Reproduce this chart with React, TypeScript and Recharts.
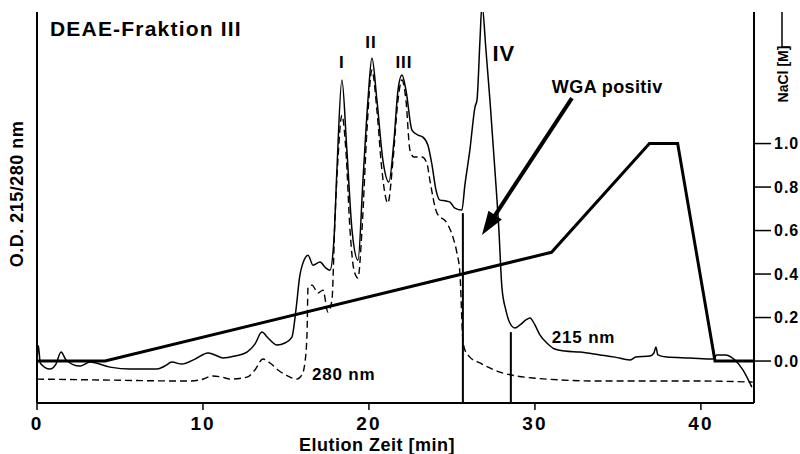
import { LineChart, Line, XAxis, YAxis, ReferenceLine, ReferenceDot } from "recharts"

// 215 nm trace (solid)
const time215 = [0, 0.08, 0.2, 0.78, 1.14, 1.45, 1.75, 2.59, 3.19, 4.4, 5.6, 7.23, 7.7, 8.13, 8.73, 9.52, 10.3, 10.72, 11.2, 11.93, 12.65, 13.13, 13.55, 13.92, 14.46, 14.94, 15.36, 15.6, 15.84, 16.02, 16.33, 16.63, 17.05, 17.4, 17.65, 17.89, 18.07, 18.37, 18.67, 18.98, 19.34, 19.64, 19.94, 20.18, 20.48, 20.84, 21.2, 21.51, 21.75, 21.99, 22.23, 22.59, 22.95, 23.25, 23.55, 23.8, 24.04, 24.28, 24.64, 24.88, 25.18, 25.6, 25.78, 26.08, 26.39, 26.51, 26.69, 26.81, 27.05, 27.29, 27.59, 27.83, 28.01, 28.25, 28.49, 28.8, 29.1, 29.46, 29.7, 30.0, 30.3, 30.72, 31.2, 31.8, 32.7, 33.92, 34.82, 35.72, 36.08, 36.93, 37.17, 37.29, 37.41, 37.95, 39.34, 40.72, 40.96, 41.45, 42.05, 42.53, 43.07]
const od215 = [0.0, 0.07, -0.01, -0.037, -0.014, 0.041, 0.005, -0.023, -0.005, -0.028, -0.037, -0.037, -0.023, -0.005, -0.014, 0.009, 0.037, 0.028, 0.014, 0.023, 0.041, 0.078, 0.133, 0.106, 0.074, 0.083, 0.11, 0.234, 0.395, 0.45, 0.487, 0.441, 0.455, 0.428, 0.418, 0.556, 0.878, 1.292, 0.97, 0.602, 0.464, 0.832, 1.2, 1.393, 1.2, 0.924, 0.823, 1.016, 1.246, 1.315, 1.246, 1.062, 1.039, 1.03, 0.993, 0.901, 0.786, 0.74, 0.736, 0.731, 0.703, 0.694, 0.809, 0.97, 1.168, 1.2, 1.476, 1.64, 1.43, 1.2, 0.878, 0.602, 0.34, 0.234, 0.175, 0.152, 0.166, 0.189, 0.198, 0.166, 0.12, 0.083, 0.055, 0.046, 0.041, 0.028, 0.018, 0.005, 0.018, 0.023, 0.037, 0.064, 0.028, 0.018, 0.014, 0.009, 0.028, 0.028, 0.005, -0.041, -0.12]

// 280 nm trace (dashed)
const time280 = [0, 3.8, 9.04, 9.82, 10.6, 11.14, 11.63, 12.65, 13.13, 13.61, 14.04, 14.52, 15.12, 15.66, 15.96, 16.14, 16.27, 16.33, 16.57, 16.93, 17.23, 17.53, 17.77, 17.95, 18.13, 18.37, 18.61, 18.86, 19.1, 19.34, 19.58, 19.88, 20.18, 20.48, 20.78, 21.14, 21.45, 21.75, 21.99, 22.23, 22.47, 22.71, 23.19, 23.49, 23.67, 24.1, 24.7, 25.06, 25.3, 25.48, 25.66, 25.78, 26.08, 26.69, 27.89, 28.55, 29.88, 33.92, 39.94, 43.13]
const od280 = [-0.083, -0.087, -0.092, -0.087, -0.069, -0.074, -0.083, -0.074, -0.041, 0.009, -0.009, -0.041, -0.069, -0.083, -0.064, -0.009, 0.129, 0.34, 0.349, 0.313, 0.326, 0.225, 0.28, 0.648, 0.924, 1.131, 0.97, 0.602, 0.418, 0.382, 0.602, 1.062, 1.338, 1.154, 0.878, 0.726, 0.924, 1.2, 1.292, 1.2, 0.97, 0.938, 0.938, 0.91, 0.832, 0.68, 0.634, 0.57, 0.497, 0.405, 0.097, 0.051, 0.018, -0.009, -0.051, -0.064, -0.078, -0.092, -0.092, -0.097]

// NaCl gradient
const gradientTime = [0, 4.1, 31.0, 36.9, 38.6, 40.85, 43.2]
const gradientNaCl = [0, 0, 0.5, 1.0, 1.0, 0, 0]

const xTicks = [0, 10, 20, 30, 40]
const naclTicks = [0, 0.2, 0.4, 0.6, 0.8, 1.0]

const peakNames = ["I", "II", "III", "IV"]
const peakTime = [18.37, 20.12, 22.11, 28.13]
const peakLevel = [1.347, 1.439, 1.347, 1.379]
const peakSize = [17, 17, 17, 22]

// fraction collection marks
const fractionTime = [25.66, 28.55]
const fractionTop = [0.68, 0.133]

const X_DOMAIN: [number, number] = [0, 43.2]
const Y_DOMAIN: [number, number] = [-0.193, 1.605]

const font = "'Liberation Sans', Arial, Helvetica, sans-serif"

const s215 = time215.map((t, i) => ({ t, v: od215[i] }))
const s280 = time280.map((t, i) => ({ t, v: od280[i] }))
const sNaCl = gradientTime.map((t, i) => ({ t, v: gradientNaCl[i] }))

function textShape(value: string, size: number, anchor: string, spacing = 0) {
    return (p: any) => (
        <text x={p.cx} y={p.cy} textAnchor={anchor} fontFamily={font} fontWeight="bold"
            fontSize={size} fill="#000" style={{ letterSpacing: spacing }}>{value}</text>
    )
}

function Arrow(p: any) {
    const { x1, y1, x2, y2 } = p
    const dx = x2 - x1, dy = y2 - y1
    const len = Math.hypot(dx, dy)
    const ux = dx / len, uy = dy / len
    const head = 24, half = 8
    const bx = x2 - ux * head, by = y2 - uy * head
    return (
        <g>
            <line x1={x1} y1={y1} x2={bx + ux * 3} y2={by + uy * 3} stroke="#000" strokeWidth={4} />
            <polygon points={`${x2},${y2} ${bx - uy * half},${by + ux * half} ${bx + uy * half},${by - ux * half}`} fill="#000" />
        </g>
    )
}

export default function App() {
    return (
        <div style={{ position: "absolute", left: 0, top: 0, background: "#fff" }}>
            <LineChart width={800} height={454} margin={{ top: 12, right: 0, bottom: 0, left: 0 }}>
                <XAxis xAxisId="top" orientation="top" type="number" domain={X_DOMAIN} allowDataOverflow
                    height={0} tick={false} tickLine={false} axisLine={{ stroke: "#000", strokeWidth: 1.5 }} />
                <XAxis dataKey="t" type="number" domain={X_DOMAIN} allowDataOverflow ticks={xTicks}
                    height={51} tickSize={7} tickMargin={7} interval={0}
                    axisLine={{ stroke: "#000", strokeWidth: 2 }} tickLine={{ stroke: "#000", strokeWidth: 1.5 }}
                    tick={{ fill: "#000", fontSize: 19, fontWeight: "bold", fontFamily: font, style: { letterSpacing: 2 } }}
                    label={{
                        content: (lp: any) => (
                            <text x={lp.viewBox.x + 340} y={lp.viewBox.y + 48} textAnchor="middle" fontFamily={font}
                                fontWeight="bold" fontSize={18} fill="#000" style={{ letterSpacing: 0.5 }}>Elution Zeit [min]</text>
                        )
                    }} />
                <YAxis yAxisId="od" orientation="left" type="number" domain={Y_DOMAIN} allowDataOverflow width={37}
                    tick={false} tickLine={false} axisLine={{ stroke: "#000", strokeWidth: 2 }}
                    label={{
                        content: () => (
                            <text x={23} y={194} transform="rotate(-90, 23, 194)" textAnchor="middle" fontFamily={font}
                                fontWeight="bold" fontSize={18} fill="#000" style={{ letterSpacing: 0.5 }}>O.D. 215/280 nm</text>
                        )
                    }} />
                <YAxis yAxisId="nacl" orientation="right" type="number" domain={Y_DOMAIN} allowDataOverflow width={46}
                    ticks={naclTicks} interval={0} tickSize={17} tickMargin={3}
                    tickFormatter={(v: number) => v.toFixed(1)}
                    axisLine={{ stroke: "#000", strokeWidth: 2 }} tickLine={{ stroke: "#000", strokeWidth: 1.5 }}
                    tick={{ fill: "#000", fontSize: 16, fontWeight: "bold", fontFamily: font, style: { letterSpacing: 1 } }}
                    label={{
                        content: () => (
                            <g>
                                <text x={788} y={74} transform="rotate(-90, 788, 74)" textAnchor="middle" fontFamily={font}
                                    fontWeight="bold" fontSize={14} fill="#000">NaCl [M]</text>
                                <line x1={782} y1={12} x2={782} y2={47} stroke="#000" strokeWidth={1.5} />
                                <line x1={782} y1={47} x2={790} y2={47} stroke="#000" strokeWidth={1.5} />
                            </g>
                        )
                    }} />

                <Line yAxisId="nacl" data={sNaCl} dataKey="v" type="linear" stroke="#000" strokeWidth={3}
                    dot={false} activeDot={false} isAnimationActive={false} />
                <Line yAxisId="od" data={s280} dataKey="v" type="monotone" stroke="#000" strokeWidth={1.4}
                    strokeDasharray="7 4" dot={false} activeDot={false} isAnimationActive={false} />
                <Line yAxisId="od" data={s215} dataKey="v" type="monotone" stroke="#000" strokeWidth={1.5}
                    dot={false} activeDot={false} isAnimationActive={false} />

                {fractionTime.map((t, i) => (
                    <ReferenceLine key={"f" + i} yAxisId="nacl" stroke="#000" strokeWidth={2}
                        segment={[{ x: t, y: fractionTop[i] }, { x: t, y: Y_DOMAIN[0] }]} />
                ))}

                <ReferenceLine yAxisId="nacl" segment={[{ x: 32.23, y: 1.209 }, { x: 26.81, y: 0.579 }]} shape={Arrow} />

                {peakNames.map((n, i) => (
                    <ReferenceDot key={n} yAxisId="nacl" x={peakTime[i]} y={peakLevel[i]} r={1}
                        shape={textShape(n, peakSize[i], "middle", 1)} />
                ))}
                <ReferenceDot yAxisId="nacl" x={0.78} y={1.494} r={1} shape={textShape("DEAE-Fraktion III", 21, "start", 1.2)} />
                <ReferenceDot yAxisId="nacl" x={31.02} y={1.232} r={1} shape={textShape("WGA positiv", 18, "start", 0.4)} />
                <ReferenceDot yAxisId="nacl" x={31.02} y={0.083} r={1} shape={textShape("215 nm", 17, "start", 0.8)} />
                <ReferenceDot yAxisId="nacl" x={16.57} y={-0.087} r={1} shape={textShape("280 nm", 17, "start", 0.8)} />
            </LineChart>
        </div>
    )
}
